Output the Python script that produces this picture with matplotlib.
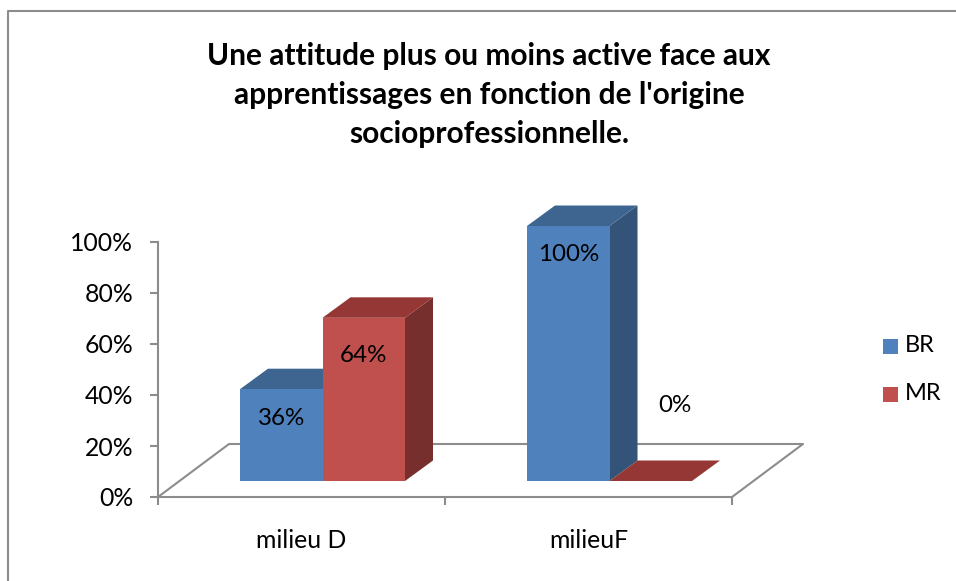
import numpy as np
import matplotlib
matplotlib.use('Agg')
import matplotlib.pyplot as plt
from matplotlib.patches import Polygon, Rectangle

plt.rcParams['font.family'] = ['Lato', 'DejaVu Sans']

title = "Une attitude plus ou moins active face aux\napprentissages en fonction de l'origine\nsocioprofessionnelle."
categories = ['milieu D', 'milieuF']
br = [36, 100]
mr = [64, 0]
yticks = [0, 20, 40, 60, 80, 100]

W, H = 956, 581
fig = plt.figure(figsize=(W/100, H/100), dpi=100)

# frame of the chart object
bg = fig.add_axes([0, 0, 1, 1])
bg.set_xlim(0, W)
bg.set_ylim(H, 0)
bg.axis('off')
bg.plot([8, 8, W], [H, 11, 11], color='#8c8c8c', lw=1.5)
bg.text(489, 95, title, ha='center', va='center', fontsize=21.5, fontweight='bold',
        color='black', linespacing=1.5)

# plot area: 158..732 px wide, 242..497 px high
ax = fig.add_axes([158/W, 1-497/H, (732-158)/W, (497-242)/H])
ax.set_xlim(0, 2)
ax.set_ylim(0, 100)
ax.patch.set_alpha(0)
for s in ['top', 'right']:
    ax.spines[s].set_visible(False)
for s in ['left', 'bottom']:
    ax.spines[s].set_color('#8c8c8c')
    ax.spines[s].set_linewidth(1.5)

px = 2/574.0     # x units per pixel
py = 100/255.0   # y units per pixel

# floor of the 3d box
fdx, fdy = 71*px, 53*py
grey = '#8c8c8c'
ax.plot([0, fdx, 2+fdx, 2], [0, fdy, fdy, 0], color=grey, lw=1.5, clip_on=False, zorder=1)

base = 16*py
dx, dy = 28*px, 20.5*py
bw = 82.5*px
start = 82*px


def bar3d(x, v, front, top, side):
    y0, y1 = base, base+v
    if v > 0:
        ax.add_patch(Polygon([[x+bw, y0], [x+bw+dx, y0+dy], [x+bw+dx, y1+dy], [x+bw, y1]],
                             color=side, lw=0, clip_on=False, zorder=3))
        ax.add_patch(Rectangle((x, y0), bw, v, facecolor=front, edgecolor='none', clip_on=False, zorder=4))
    ax.add_patch(Polygon([[x, y1], [x+dx, y1+dy], [x+bw+dx, y1+dy], [x+bw, y1]],
                         color=top, lw=0, clip_on=False, zorder=3))


for i in range(len(categories)):
    x = i+start
    bar3d(x, br[i], '#4f81bd', '#3e6590', '#335378')
    bar3d(x+bw, mr[i], '#c0504d', '#953735', '#772f2d')
    ax.text(x+bw/2, base+br[i]-29*py, '%d%%' % br[i], ha='center', va='center', fontsize=17.4, zorder=6)
    if mr[i] > 0:
        ax.text(x+bw+bw/2, base+mr[i]-38*py, '%d%%' % mr[i], ha='center', va='center', fontsize=17.4, zorder=6)
    else:
        ax.text(x+bw+bw/2+24*px, base+mr[i]+76*py, '%d%%' % mr[i], ha='center', va='center', fontsize=17.4, zorder=6)

ax.set_yticks(yticks)
ax.set_yticklabels(['%d%%' % t for t in yticks], fontsize=17.8)
ax.set_xticks([0, 1, 2])
ax.set_xticklabels([])
ax.tick_params(axis='both', color=grey, width=1.5, length=6)
ax.tick_params(axis='y', pad=12)
ax.text(0.5, -44*py, categories[0], ha='center', va='center', fontsize=17.8)
ax.text(1.5, -44*py, categories[1], ha='center', va='center', fontsize=17.8)

# legend
bg.add_patch(Rectangle((883, 339), 15, 15, facecolor='#4f81bd', edgecolor='none'))
bg.add_patch(Rectangle((883, 387), 15, 15, facecolor='#c0504d', edgecolor='none'))
bg.text(905, 346, 'BR', va='center', fontsize=17)
bg.text(905, 394, 'MR', va='center', fontsize=17)

fig.savefig('out.png', dpi=100)
